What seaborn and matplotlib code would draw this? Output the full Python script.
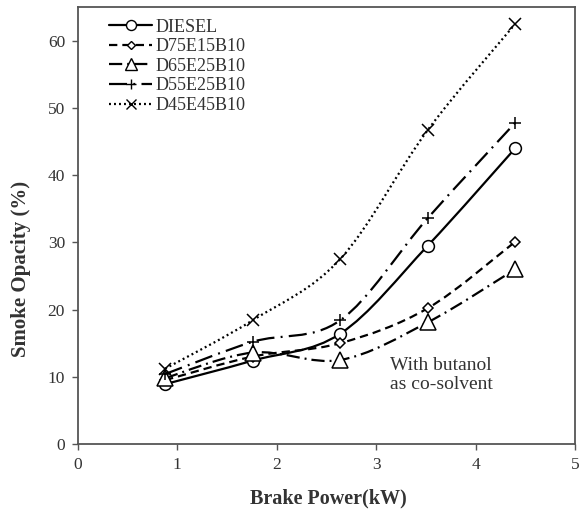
import numpy as np
import pandas as pd
import matplotlib
matplotlib.use("Agg")
import matplotlib.pyplot as plt
import seaborn as sns
from matplotlib.path import Path
from matplotlib.patches import PathPatch
from matplotlib.lines import Line2D

### Data ###
brake_power = [0.88, 1.76, 2.64, 3.52, 4.40]
diesel = [8.9, 12.4, 16.4, 29.5, 44.0]
d75e15b10 = [9.5, 13.0, 15.0, 20.2, 30.1]
d65e25b10 = [9.8, 13.6, 12.5, 18.1, 26.0]
d55e25b10 = [10.4, 15.2, 18.4, 33.6, 47.8]
d45e45b10 = [11.2, 18.4, 27.5, 46.7, 62.5]

series_names = ["DIESEL", "D75E15B10", "D65E25B10", "D55E25B10", "D45E45B10"]
series_values = [diesel, d75e15b10, d65e25b10, d55e25b10, d45e45b10]

x_ticks = [0, 1, 2, 3, 4, 5]
y_ticks = [0, 10, 20, 30, 40, 50, 60]

# marker, marker size, dash pattern (points)
styles = {
    "DIESEL": ("o", 8.5, "-"),
    "D75E15B10": ("D", 5.0, (0, (6, 3.6))),
    "D65E25B10": ("^", 11.0, (0, (9.5, 3.6, 1.4, 3.6))),
    "D55E25B10": ("+", 9.0, (0, (13, 4.5, 1.4, 4.5))),
    "D45E45B10": ("x", 8.5, (0, (1.4, 2.2))),
}


def smooth_path(xs, ys):
    """Excel-like smoothed line: Catmull-Rom segments as cubic beziers."""
    pts = np.column_stack([xs, ys]).astype(float)
    n = len(pts)
    verts = [pts[0]]
    codes = [Path.MOVETO]
    for i in range(n - 1):
        p0 = pts[max(i - 1, 0)]
        p1 = pts[i]
        p2 = pts[i + 1]
        p3 = pts[min(i + 2, n - 1)]
        c1 = p1 + (p2 - p0) / 6.0
        c2 = p2 - (p3 - p1) / 6.0
        verts += [c1, c2, p2]
        codes += [Path.CURVE4] * 3
    return Path(verts, codes)


sns.set_style("ticks")
plt.rcParams["font.family"] = ["Liberation Serif", "DejaVu Serif"]
plt.rcParams["lines.scale_dashes"] = False

fig = plt.figure(figsize=(5.81, 5.12), dpi=100)
ax = fig.add_axes([0.1334, 0.1328, 0.8563, 0.8535])

lw = 1.6
handles = []
for name, vals in zip(series_names, series_values):
    marker, ms, ls = styles[name]
    patch = PathPatch(smooth_path(brake_power, vals), fill=False,
                      edgecolor="black", linewidth=lw, linestyle=ls,
                      capstyle="butt", zorder=2)
    ax.add_patch(patch)
    df = pd.DataFrame({"power": brake_power, "opacity": vals})
    sns.lineplot(data=df, x="power", y="opacity", ax=ax, marker=marker,
                 markersize=ms, markerfacecolor="white", markeredgecolor="black",
                 markeredgewidth=1.1, linestyle="", color="black", zorder=3)
    handles.append(Line2D([], [], color="black", linewidth=lw, linestyle=ls,
                          marker=marker, markersize=ms * 0.85,
                          markerfacecolor="white", markeredgecolor="black",
                          markeredgewidth=1.0))

ax.set_xlim(0, 5)
ax.set_ylim(0, 65)
ax.set_xticks(x_ticks)
ax.set_yticks(y_ticks)
ax.tick_params(axis="both", direction="out", length=4, width=1, color="#555555",
               labelsize=12.5, labelcolor="#333333", pad=5)
for sp in ax.spines.values():
    sp.set_visible(True)
    sp.set_color("#555555")
    sp.set_linewidth(1.3)

ax.set_xlabel("Brake Power(kW)", fontsize=14.5, fontweight="bold", color="#333333")
ax.set_ylabel("Smoke Opacity (%)", fontsize=15, fontweight="bold", color="#333333")
ax.xaxis.set_label_coords(0.505, -0.102)
ax.yaxis.set_label_coords(-0.094, 0.40)

ax.text(3.14, 12.9, "With butanol\nas co-solvent", fontsize=14, color="#333333",
        va="top", ha="left", linespacing=1.1)

leg = ax.legend(handles, series_names, loc="upper left",
                bbox_to_anchor=(0.04, 1.0), frameon=False, fontsize=13,
                handlelength=2.4, handletextpad=0.15, labelspacing=0.14,
                borderpad=0.15)
for t in leg.get_texts():
    t.set_color("#333333")

fig.savefig("out.png", dpi=100)
